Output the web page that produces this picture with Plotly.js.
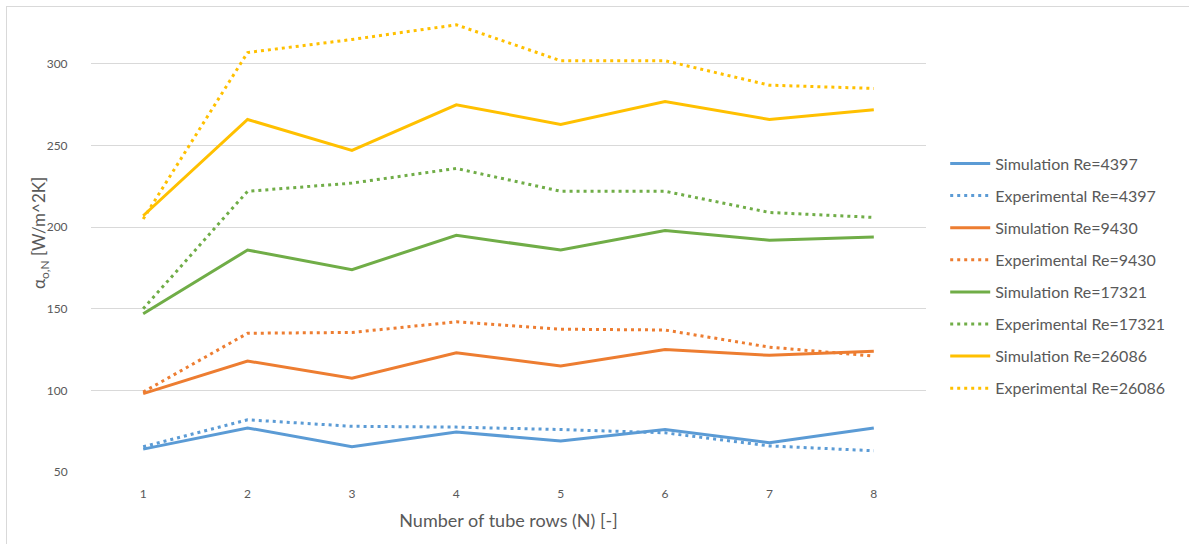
<!DOCTYPE html>
<html>
<head>
<meta charset="utf-8">
<script src="https://cdn.plot.ly/plotly-3.0.1.min.js"></script>
<style>
  html, body { margin: 0; padding: 0; background: #fff; }
  #wrap { position: relative; width: 1189px; height: 544px; overflow: hidden; }
  #chart { position: absolute; left: 0; top: 0; width: 1189px; height: 544px; }
  #frame { position: absolute; left: 6px; top: 6px; width: 1300px; height: 600px;
           border-top: 1px solid #D9D9D9; border-left: 1px solid #D9D9D9; pointer-events: none; }
</style>
</head>
<body>
<div id="wrap">
  <div id="chart"></div>
  <div id="frame"></div>
</div>
<script>
// Tube row index
const rows = [1, 2, 3, 4, 5, 6, 7, 8];

// Heat transfer coefficient per row, W/m^2K
const sim4397  = [64, 77, 65.5, 74.5, 69, 76, 68, 77];
const exp4397  = [65.5, 82, 78, 77.5, 76, 74, 66, 63];
const sim9430  = [98, 118, 107.5, 123, 115, 125, 121.5, 124];
const exp9430  = [99, 135, 135.5, 142, 137.5, 137, 126.5, 121];
const sim17321 = [147, 186, 174, 195, 186, 198, 192, 194];
const exp17321 = [150, 222, 227, 236, 222, 222, 209, 206];
const sim26086 = [207, 266, 247, 275, 263, 277, 266, 272];
const exp26086 = [205, 307, 315, 324, 302, 302, 287, 285];

const seriesNames = [
  'Simulation Re=4397', 'Experimental Re=4397',
  'Simulation Re=9430', 'Experimental Re=9430',
  'Simulation Re=17321', 'Experimental Re=17321',
  'Simulation Re=26086', 'Experimental Re=26086'
];
const seriesValues = [sim4397, exp4397, sim9430, exp9430, sim17321, exp17321, sim26086, exp26086];
const palette = ['#5B9BD5', '#ED7D31', '#70AD47', '#FFC000'];

const FONT = 'Lato, "Open Sans", sans-serif';
const GREY = '#595959';

const traces = seriesValues.map((vals, i) => ({
  x: rows,
  y: vals,
  name: seriesNames[i],
  type: 'scatter',
  mode: 'lines',
  legendgroup: 'g' + i,
  line: {
    color: palette[Math.floor(i / 2)],
    width: 3,
    dash: i % 2 === 0 ? 'solid' : '3px,4px'
  },
  hoverinfo: 'x+y+name'
}));

const layout = {
  width: 1189,
  height: 544,
  margin: { l: 91, r: 263, t: 15, b: 72 },
  paper_bgcolor: '#ffffff',
  plot_bgcolor: '#ffffff',
  font: { family: FONT, color: GREY, size: 12 },
  showlegend: true,
  legend: {
    x: 1.023, xanchor: 'left',
    y: 0.712, yanchor: 'top',
    font: { family: FONT, size: 16, color: GREY },
    itemwidth: 40,
    tracegroupgap: 8.3,
    bgcolor: 'rgba(0,0,0,0)'
  },
  xaxis: {
    type: 'linear',
    range: [0.5, 8.5],
    tickvals: rows,
    ticktext: rows.map(String),
    showgrid: false,
    zeroline: false,
    showline: false,
    ticks: 'outside',
    ticklen: 11,
    tickcolor: 'rgba(0,0,0,0)',
    tickfont: { family: FONT, size: 12, color: GREY },
    title: {
      text: 'Number of tube rows (N) [-]',
      font: { family: FONT, size: 18, color: GREY },
      standoff: 13
    },
    fixedrange: true
  },
  yaxis: {
    range: [50, 330],
    tickvals: [50, 100, 150, 200, 250, 300],
    showgrid: true,
    gridcolor: '#D9D9D9',
    gridwidth: 1,
    zeroline: false,
    showline: false,
    ticks: 'outside',
    ticklen: 20,
    tickcolor: 'rgba(0,0,0,0)',
    tickfont: { family: FONT, size: 12, color: GREY },
    fixedrange: true
  },
  annotations: [{
    text: 'α<sub>o,N</sub> [W/m^2K]',
    xref: 'paper', yref: 'paper',
    x: -0.061, y: 0.523,
    xanchor: 'center', yanchor: 'middle',
    textangle: -90,
    showarrow: false,
    font: { family: FONT, size: 17, color: GREY }
  }]
};

Plotly.newPlot('chart', traces, layout, { displayModeBar: false, staticPlot: true });
</script>
</body>
</html>
